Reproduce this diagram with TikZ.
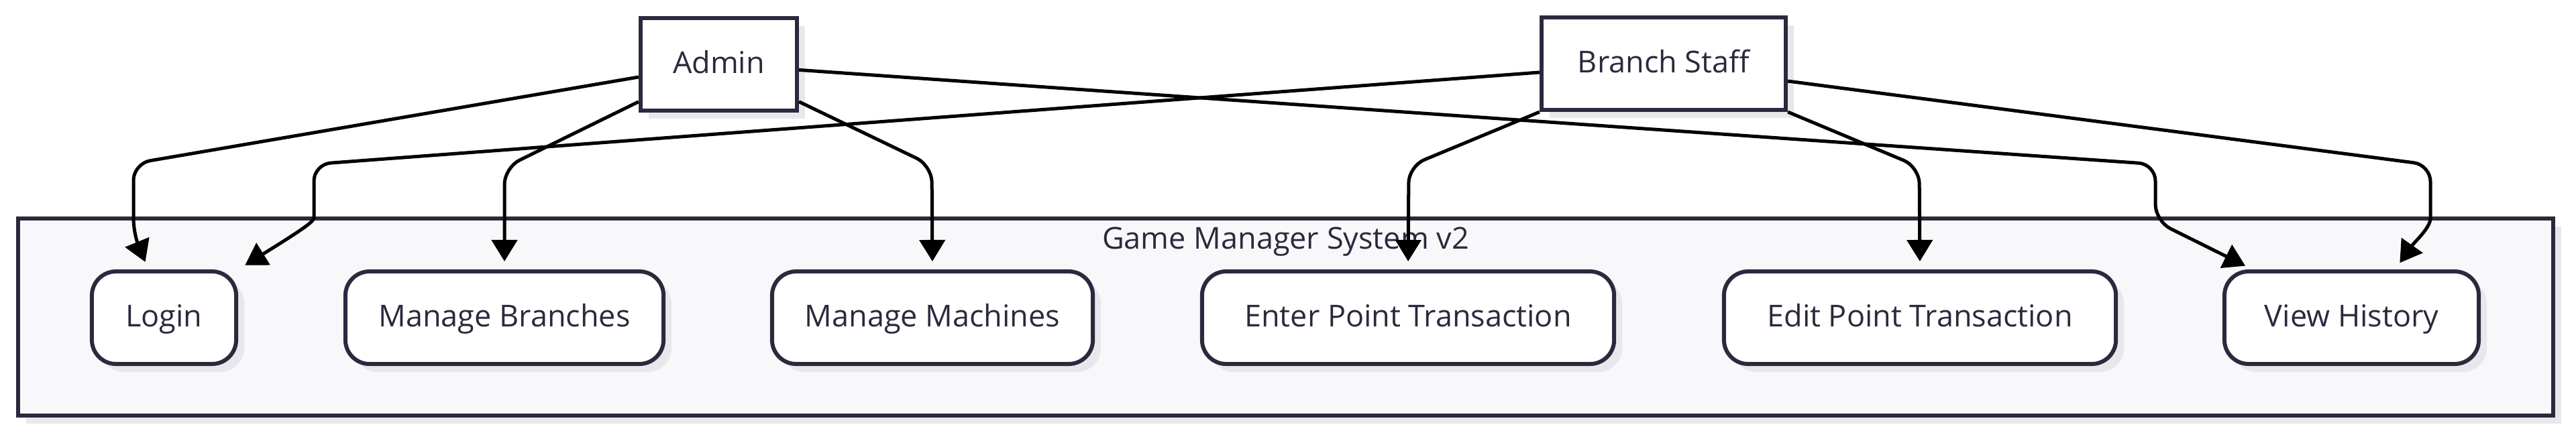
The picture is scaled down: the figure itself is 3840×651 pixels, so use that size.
\documentclass[tikz,border=0pt]{standalone}
\usepackage{fontspec}
\setmainfont{Open Sans}
\usetikzlibrary{shapes, arrows}
\usetikzlibrary{arrows.meta,shadows}
\usetikzlibrary{positioning}
\pgfdeclarelayer{background1}
\pgfsetlayers{background1,main}

\begin{document}
\begin{tikzpicture}[x=0.01cm,y=-0.01cm]

	\definecolor{linecolor}{RGB}{42,42,62}
	\definecolor{clustercolor}{RGB}{248,248,250}
	\definecolor{shadowcolor}{RGB}{232,232,236}

	\tikzset{
		actor/.style={draw=linecolor, line width=0.06cm, fill=white, text=linecolor, font=\fontsize{12.8}{15}\selectfont, minimum height=1.38cm, inner sep=0pt, text height=10pt, text depth=2.6pt, drop shadow={shadow xshift=0.12cm, shadow yshift=-0.12cm, fill=shadowcolor, opacity=1}},
		usecase/.style={actor, rounded corners=0.36cm},
		flow/.style={draw=black, line width=0.05cm, rounded corners=0.25cm, -{Triangle[length=0.32cm,width=0.38cm]}, shorten >=0.12cm}
	}

	\useasboundingbox (0,0) rectangle (3840,651);

	% system boundary
	\begin{pgfonlayer}{background1}
		\node(system) [draw=linecolor, line width=0.06cm, fill=clustercolor, minimum width=37.77cm, minimum height=2.94cm, drop shadow={shadow xshift=0.12cm, shadow yshift=-0.12cm, fill=shadowcolor, opacity=1}] at (1916.5,473) {};
	\end{pgfonlayer}
	\node(title) [below=0.15cm of system.north, inner sep=0pt, text=linecolor, font=\fontsize{12.8}{15}\selectfont]{Game Manager System v2};

	% actors
	\node(admin) [actor, minimum width=2.33cm] at (1071.5,96) {Admin};
	\node(staff) [actor, minimum width=3.64cm] at (2480,95) {Branch Staff};

	% use cases
	\node(login) [usecase, minimum width=2.15cm] at (244.5,474) {Login};
	\node(branches) [usecase, minimum width=4.74cm] at (752,474) {Manage Branches};
	\node(machines) [usecase, minimum width=4.78cm] at (1390,474) {Manage Machines};
	\node(enter) [usecase, minimum width=6.14cm] at (2099,474) {Enter Point Transaction};
	\node(edit) [usecase, minimum width=5.84cm] at (2862,474) {Edit Point Transaction};
	\node(history) [usecase, minimum width=3.79cm] at (3505.5,474) {View History};

	% Admin
	\draw[flow] (admin.189) -- (199,244) -- (199,300) .. controls (199,350) and (208,370) .. (login.108);
	\draw[flow] (admin.205) -- (752,250) -- (branches.north);
	\draw[flow] (admin.335) -- (1389,247) -- (machines.north);
	\draw[flow] (admin.356) -- (3213,245) -- (3213,330) -- (history.154);

	% Branch Staff
	\draw[flow] (staff.184) -- (468,245) -- (468,300) .. controls (468,330) and (455,340) .. (login.north east);
	\draw[flow] (staff.south west) -- (2100,248) -- (enter.north);
	\draw[flow] (staff.south east) -- (2861,249) -- (edit.north);
	\draw[flow] (staff.352) -- (3623,246) -- (3623,300) .. controls (3623,340) and (3600,360) .. (history.48);

\end{tikzpicture}
\end{document}
